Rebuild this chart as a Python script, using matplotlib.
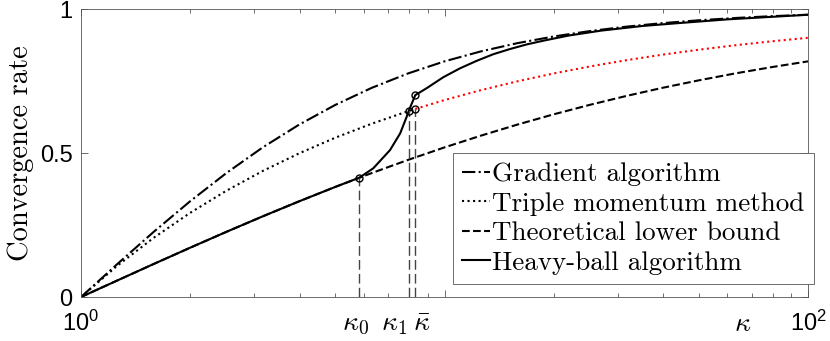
#!/usr/bin/env python3
import numpy as np
import matplotlib
matplotlib.use("Agg")
import matplotlib.pyplot as plt
from matplotlib.ticker import LogLocator, NullFormatter, FixedLocator, FixedFormatter

plt.rcParams['font.family'] = 'Liberation Sans'
plt.rcParams['mathtext.fontset'] = 'cm'

# condition number grid
kappa = [1.0, 1.259, 1.585, 1.995, 2.512, 3.162, 3.981, 5.012, 6.310, 7.943,
         10.0, 12.59, 15.85, 19.95, 25.12, 31.62, 39.81, 50.12, 63.10, 79.43, 100.0]
gradient = [0.0, 0.1147, 0.2263, 0.3322, 0.4305, 0.5195, 0.5985, 0.6673, 0.7264, 0.7764,
            0.8182, 0.8528, 0.8813, 0.9045, 0.9234, 0.9387, 0.9510, 0.9609, 0.9688, 0.9751, 0.9802]
triple = [0.0, 0.1088, 0.2057, 0.2920, 0.3691, 0.4376, 0.4988, 0.5534, 0.6019, 0.6452,
          0.6838, 0.7182, 0.7488, 0.7761, 0.8005, 0.8222, 0.8415, 0.8587, 0.8741, 0.8878, 0.9000]
lower = [0.0, 0.0575, 0.1147, 0.1710, 0.2263, 0.2801, 0.3322, 0.3825, 0.4305, 0.4762,
         0.5195, 0.5602, 0.5985, 0.6342, 0.6673, 0.6980, 0.7264, 0.7524, 0.7764, 0.7982, 0.8182]

# heavy-ball curve
hb_kappa = [1.0, 1.259, 1.585, 1.995, 2.512, 3.162, 3.981, 5.012, 5.83, 6.37, 7.08, 7.55,
            7.87, 7.97, 8.31, 8.93, 9.92, 11.03, 12.26, 13.62, 15.14, 16.83, 18.71,
            22.0, 27.0, 35.0, 44.0, 60.0, 80.0, 100.0]
hb_rate = [0.0, 0.0575, 0.1147, 0.1710, 0.2263, 0.2801, 0.3322, 0.3825, 0.4143, 0.447,
           0.510, 0.568, 0.626, 0.646, 0.701, 0.725, 0.763, 0.794, 0.820, 0.843, 0.861,
           0.877, 0.890, 0.908, 0.925, 0.941, 0.951, 0.964, 0.973, 0.980]

# special points
k0, k1, kbar = 5.83, 7.97, 8.31
mark_k = [k0, k1, kbar, kbar]
mark_r = [0.4143, 0.646, 0.701, 0.653]
kappa_label_pos = 66.0

kappa = np.array(kappa)
triple = np.array(triple)

fig = plt.figure(figsize=(8.3, 3.41), dpi=100)
ax = fig.add_axes([0.0976, 0.129, 0.8759, 0.8446])

lw = 1.5
ax.plot(kappa, gradient, '-.', color='k', lw=lw, label='Gradient algorithm')
sel = kappa < kbar
ax.plot(np.append(kappa[sel], kbar), np.append(triple[sel], mark_r[3]), ':', color='k', lw=lw,
        label='Triple momentum method')
ax.plot(np.insert(kappa[~sel], 0, kbar), np.insert(triple[~sel], 0, mark_r[3]), ':',
        color='r', lw=lw)
ax.plot(kappa, lower, '--', color='k', lw=lw, label='Theoretical lower bound')
ax.plot(hb_kappa, hb_rate, '-', color='k', lw=lw, label='Heavy-ball algorithm')

# vertical guides
for kx, ry in zip([k0, k1, kbar], [mark_r[0], mark_r[1], mark_r[3]]):
    ax.plot([kx, kx], [0, ry], '--', color='#444444', lw=1.0, dashes=(7, 3))
ax.plot(mark_k, mark_r, 'o', mfc='none', mec='k', ms=5, mew=1.0)

ax.set_xscale('log')
ax.set_xlim(1, 100)
ax.set_ylim(0, 1)

ax.xaxis.set_major_locator(FixedLocator([1, 10, 100]))
ax.xaxis.set_major_formatter(FixedFormatter([r'$\mathregular{10^0}$', '', r'$\mathregular{10^2}$']))
ax.xaxis.set_minor_locator(LogLocator(base=10, subs=np.arange(2, 10)))
ax.xaxis.set_minor_formatter(NullFormatter())
ax.set_yticks([0, 0.5, 1])
ax.set_yticklabels(['0', '0.5', '1'])

ax.tick_params(which='both', direction='in', top=True, right=True, color='#555555', width=0.6)
ax.tick_params(which='major', length=5, labelsize=17)
ax.tick_params(which='minor', length=3)
ax.tick_params(axis='y', pad=6)
ax.tick_params(axis='x', pad=10)
for s in ax.spines.values():
    s.set_color('#555555')
    s.set_linewidth(0.6)

tr = ax.get_xaxis_transform()
ax.text(k0 * 0.975, -0.05, r'$\kappa_0$', transform=tr, ha='center', va='top', fontsize=20)
ax.text(k1 * 0.99, -0.05, r'$\kappa_1$', transform=tr, ha='right', va='top', fontsize=20)
ax.text(kbar * 0.985, -0.05, r'$\bar{\kappa}$', transform=tr, ha='left', va='top', fontsize=20)
ax.text(kappa_label_pos, -0.05, r'$\kappa$', transform=tr, ha='center', va='top', fontsize=20)

ax.set_ylabel('Convergence rate', family='cmr10', fontsize=20.5, labelpad=4)

leg = ax.legend(loc='upper left', bbox_to_anchor=(0.5117, 0.5), borderaxespad=0,
                prop={'family': 'cmr10', 'size': 19.5}, handlelength=1.0, handletextpad=0.08,
                labelspacing=0.2, borderpad=0.35, fancybox=False, framealpha=1)
leg.get_frame().set_edgecolor('#555555')
leg.get_frame().set_linewidth(0.6)

fig.savefig('out.png', dpi=100)
